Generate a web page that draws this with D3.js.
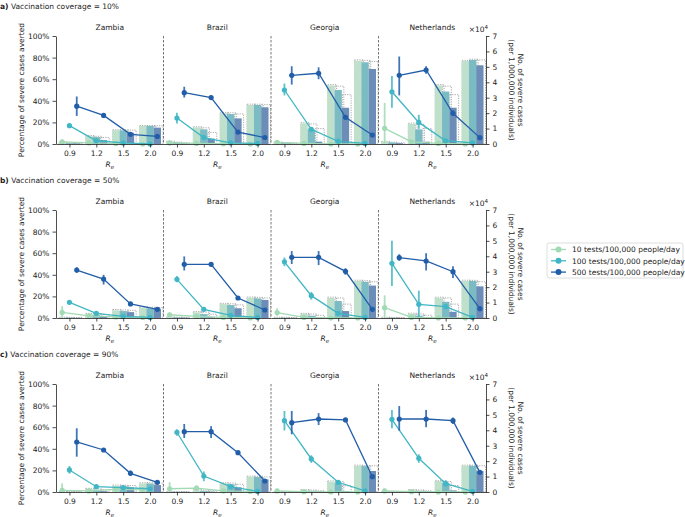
<!DOCTYPE html>
<html>
<head>
<meta charset="utf-8">
<script src="https://cdn.jsdelivr.net/npm/d3@7"></script>
<style>
  body { margin: 0; background: #fff; }
  text { font-family: "DejaVu Sans", sans-serif; fill: #222; }
</style>
</head>
<body>
<div id="chart"></div>
<script>
// categories
var coverages = ["10%", "50%", "90%"];
var panelLetters = ["a)", "b)", "c)"];
var countries = ["Zambia", "Brazil", "Georgia", "Netherlands"];
var reValues = ["0.9", "1.2", "1.5", "2.0"];
var testLevels = ["10 tests/100,000 people/day", "100 tests/100,000 people/day", "500 tests/100,000 people/day"];
var pctTicks = [0, 20, 40, 60, 80, 100];
var caseTicks = [0, 1, 2, 3, 4, 5, 6, 7];

// % severe cases averted, [country][test level][Re]
var averted10 = [
  [[2, 1, 0.5, 0], [17, 3, 1, 0], [35, 26.5, 9, 7]],
  [[1, 0.5, 0.3, 0], [24, 6, 1, 0.5], [47.5, 43, 11, 6]],
  [[1.5, 0.5, 0, 0], [50, 13.6, 2.5, 0.5], [63.6, 65.5, 24.7, 8.3]],
  [[14.5, 2, 0.5, 0], [48.4, 20, 3, 1], [63.6, 68.5, 28.4, 5.9]]
];
var lo10 = [
  [[0, 0, 0, 0], [15, 2, 0.5, 0], [26, 25, 8, 6]],
  [[0, 0, 0, 0], [19, 4.5, 0.5, 0], [43, 41, 9.5, 5]],
  [[0, 0, 0, 0], [45, 12, 2, 0], [55, 60, 23, 7.5]],
  [[1, 0.5, 0, 0], [33.6, 14, 2, 0.5], [45, 65, 26, 5]]
];
var hi10 = [
  [[4, 2, 1, 0.5], [19, 4, 1.5, 0.5], [44, 28, 10.5, 8]],
  [[3, 1.5, 1, 0.5], [29, 7.5, 1.5, 1], [53, 45, 12.5, 7]],
  [[3, 1, 0.5, 0.3], [56, 15, 3, 1], [72, 71, 26.5, 9]],
  [[38, 3.5, 1, 0.3], [63, 27, 4, 1.5], [81, 72, 31, 7]]
];
var averted50 = [
  [[5.2, 2, 1, 0.5], [14.5, 4.3, 1.5, 0.5], [44.4, 36, 13, 8]],
  [[3, 1.5, 0.5, 0], [35.8, 8, 2.5, 0.5], [49.7, 49.7, 18.5, 7.4]],
  [[5, 0.5, 0, 0], [52, 20.7, 4.3, 0.5], [56.2, 56.2, 43.2, 8]],
  [[9.6, 0.5, 0, 0], [50.6, 12.7, 10.5, 0.5], [55.9, 52.8, 42.9, 8.6]]
];
var lo50 = [
  [[1, 1, 0.5, 0], [13, 3, 1, 0], [42, 31, 11.5, 6]],
  [[1, 0.5, 0, 0], [33, 6.5, 1.5, 0], [44, 48, 17, 6]],
  [[2, 0, 0, 0], [48, 17, 3, 0], [50, 49, 40, 7]],
  [[1, 0, 0, 0], [29.6, 1, 8, 0], [53, 44, 37, 7.5]]
];
var hi50 = [
  [[11, 3, 1.5, 1], [16, 5.5, 2, 1], [47, 40, 14.5, 10]],
  [[5, 2.5, 1, 0.5], [39, 9.5, 3.5, 1], [57, 51, 20, 9]],
  [[9, 1, 0.5, 0.3], [56, 24, 5.5, 1], [62, 62, 46, 9]],
  [[21, 1, 0.5, 0.3], [71.6, 25.3, 13, 1], [59, 60, 48, 9.5]]
];
var averted90 = [
  [[1.5, 1, 2.5, 2], [20.4, 4.9, 4, 3], [46.3, 38.9, 17.3, 9]],
  [[3, 3.5, 1, 0.5], [55.3, 14.8, 4.9, 0.5], [55.9, 55.9, 36.4, 10.2]],
  [[1, 0.3, 0, 0], [66, 30.6, 9, 1], [64.2, 67.6, 66.7, 14.2]],
  [[1, 0.3, 0, 0], [67.3, 31.2, 7.7, 0.5], [67.6, 67.6, 66, 18.2]]
];
var lo90 = [
  [[0, 0, 1, 1], [17, 4, 3, 2], [32.7, 37.5, 15, 8]],
  [[0, 1, 0, 0], [52, 10, 3.5, 0], [50, 50, 34.5, 9]],
  [[0, 0, 0, 0], [57, 27, 7, 0], [53.4, 62, 65, 13]],
  [[0, 0, 0, 0], [59, 27, 5, 0], [56.8, 60, 63, 17]]
];
var hi90 = [
  [[8, 2, 4, 3], [24, 6, 5, 4], [59, 40, 20, 10]],
  [[9, 6, 2, 1], [58, 19, 6.5, 1], [63, 61, 38, 11.5]],
  [[3, 1, 0.5, 0.3], [75, 34, 11, 2], [75, 73, 68, 15.5]],
  [[3, 1, 0.5, 0.3], [76, 35, 11, 1], [79.6, 76, 69, 19.5]]
];

// severe cases (x10^4 per 1,000,000), [country][test level][Re]
var cases10 = [
  [[0.1, 0.52, 0.9, 1.17], [0.05, 0.45, 0.88, 1.17], [0.03, 0.25, 0.73, 1.06]],
  [[0.15, 1.08, 2.0, 2.53], [0.1, 0.95, 1.94, 2.53], [0.05, 0.35, 1.66, 2.38]],
  [[0.1, 1.34, 3.8, 5.4], [0.05, 0.95, 3.5, 5.3], [0.02, 0.15, 2.35, 4.86]],
  [[0.15, 1.3, 3.8, 5.38], [0.1, 0.95, 3.4, 5.45], [0.05, 0.15, 2.35, 5.1]]
];
var dotted10 = [
  [[0.12, 0.55, 0.92, 1.2], [0.08, 0.5, 0.92, 1.2], [0.06, 0.42, 0.9, 1.18]],
  [[0.18, 1.12, 2.05, 2.58], [0.12, 1.05, 2.02, 2.58], [0.08, 0.75, 1.95, 2.55]],
  [[0.13, 1.38, 3.85, 5.45], [0.1, 1.3, 3.75, 5.42], [0.06, 1.0, 3.2, 5.35]],
  [[0.17, 1.35, 3.85, 5.42], [0.12, 1.28, 3.75, 5.5], [0.08, 1.0, 3.2, 5.45]]
];
var cases50 = [
  [[0.03, 0.26, 0.5, 0.67], [0.02, 0.2, 0.45, 0.62], [0.01, 0.1, 0.38, 0.6]],
  [[0.05, 0.37, 0.9, 1.32], [0.04, 0.25, 0.84, 1.27], [0.02, 0.05, 0.63, 1.17]],
  [[0.03, 0.27, 1.3, 2.4], [0.02, 0.15, 1.1, 2.35], [0.01, 0.05, 0.45, 2.1]],
  [[0.03, 0.28, 1.3, 2.4], [0.02, 0.15, 1.05, 2.4], [0.01, 0.05, 0.4, 2.05]]
];
var dotted50 = [
  [[0.05, 0.3, 0.55, 0.72], [0.04, 0.28, 0.52, 0.7], [0.03, 0.22, 0.5, 0.68]],
  [[0.07, 0.42, 0.95, 1.36], [0.06, 0.38, 0.92, 1.34], [0.04, 0.25, 0.85, 1.3]],
  [[0.05, 0.3, 1.35, 2.45], [0.04, 0.26, 1.3, 2.42], [0.03, 0.18, 0.9, 2.35]],
  [[0.05, 0.31, 1.35, 2.45], [0.04, 0.26, 1.3, 2.44], [0.03, 0.18, 0.9, 2.35]]
];
var cases90 = [
  [[0.02, 0.2, 0.41, 0.56], [0.01, 0.1, 0.38, 0.55], [0.01, 0.05, 0.3, 0.45]],
  [[0.02, 0.1, 0.56, 0.99], [0.01, 0.06, 0.5, 0.97], [0.01, 0.02, 0.3, 0.82]],
  [[0.02, 0.12, 0.67, 1.7], [0.01, 0.08, 0.6, 1.68], [0.01, 0.02, 0.05, 1.36]],
  [[0.02, 0.12, 0.71, 1.7], [0.01, 0.08, 0.6, 1.7], [0.01, 0.02, 0.1, 1.36]]
];
var dotted90 = [
  [[0.03, 0.24, 0.45, 0.6], [0.02, 0.2, 0.44, 0.6], [0.02, 0.15, 0.42, 0.58]],
  [[0.03, 0.15, 0.6, 1.03], [0.02, 0.12, 0.58, 1.02], [0.02, 0.08, 0.5, 0.98]],
  [[0.03, 0.15, 0.72, 1.74], [0.02, 0.13, 0.68, 1.72], [0.02, 0.08, 0.4, 1.7]],
  [[0.03, 0.15, 0.75, 1.74], [0.02, 0.13, 0.68, 1.74], [0.02, 0.08, 0.42, 1.7]]
];

var averted = [averted10, averted50, averted90];
var lows = [lo10, lo50, lo90];
var highs = [hi10, hi50, hi90];
var cases = [cases10, cases50, cases90];
var dotted = [dotted10, dotted50, dotted90];

var lineColors = ["#a1dab4", "#41b6c4", "#225ea8"];
var barColors = ["#bfe0cb", "#7bbcc4", "#6b8db8"];

var width = 685, height = 517;
var left = 56, panelW = 107.5, plotH = 108;
var rowTops = [36, 210, 384];
var barW = 7.3;

var svg = d3.select("#chart").append("svg")
  .attr("width", width)
  .attr("height", height);

var yPct = d3.scaleLinear().domain([0, 100]).range([plotH, 0]);
var yCases = d3.scaleLinear().domain([0, 7]).range([plotH, 0]);
var xRe = d3.scalePoint().domain(reValues).range([0, panelW]).padding(0.5);

rowTops.forEach(function(top, r) {
  var row = svg.append("g").attr("transform", "translate(0," + top + ")");

  row.append("text")
    .attr("x", 0).attr("y", -27.5)
    .style("font-size", "7.5px")
    .call(function(t) {
      t.append("tspan").style("font-weight", "bold").text(panelLetters[r]);
      t.append("tspan").text(" Vaccination coverage = " + coverages[r]);
    });

  countries.forEach(function(country, c) {
    var p = row.append("g").attr("transform", "translate(" + (left + c * panelW) + ",0)");

    p.append("text")
      .attr("x", panelW / 2).attr("y", -6)
      .attr("text-anchor", "middle")
      .style("font-size", "7.5px")
      .text(country);

    if (c > 0) {
      p.append("line")
        .attr("x1", 0).attr("x2", 0)
        .attr("y1", 0).attr("y2", plotH)
        .attr("stroke", "#555").attr("stroke-width", 0.8)
        .attr("stroke-dasharray", "2.5,1.5");
    }

    // dotted outline bars then filled bars
    testLevels.forEach(function(lv, k) {
      var off = (k - 1) * barW - barW / 2;
      p.selectAll(".dot" + k).data(reValues).enter().append("rect")
        .attr("x", function(d) { return xRe(d) + off + 0.5; })
        .attr("width", barW + 1.5)
        .attr("y", function(d, i) { return yCases(dotted[r][c][k][i]); })
        .attr("height", function(d, i) { return plotH - yCases(dotted[r][c][k][i]); })
        .attr("fill", "none")
        .attr("stroke", "#aaa")
        .attr("stroke-width", 1)
        .attr("stroke-dasharray", "1.2,1.2");
    });
    testLevels.forEach(function(lv, k) {
      var off = (k - 1) * barW - barW / 2;
      p.selectAll(".bar" + k).data(reValues).enter().append("rect")
        .attr("x", function(d) { return xRe(d) + off; })
        .attr("width", barW)
        .attr("y", function(d, i) { return yCases(cases[r][c][k][i]); })
        .attr("height", function(d, i) { return plotH - yCases(cases[r][c][k][i]); })
        .attr("fill", barColors[k]);
    });

    // lines with error bars
    testLevels.forEach(function(lv, k) {
      var off = (k - 1) * barW;
      var vals = averted[r][c][k];
      var line = d3.line()
        .x(function(d, i) { return xRe(reValues[i]) + off; })
        .y(function(d) { return yPct(d); });
      p.append("path")
        .datum(vals)
        .attr("d", line)
        .attr("fill", "none")
        .attr("stroke", lineColors[k])
        .attr("stroke-width", 1.3);
      p.selectAll(".err" + k).data(vals).enter().append("line")
        .attr("x1", function(d, i) { return xRe(reValues[i]) + off; })
        .attr("x2", function(d, i) { return xRe(reValues[i]) + off; })
        .attr("y1", function(d, i) { return yPct(lows[r][c][k][i]); })
        .attr("y2", function(d, i) { return yPct(highs[r][c][k][i]); })
        .attr("stroke", lineColors[k])
        .attr("stroke-width", 1.8)
        .attr("opacity", 0.85);
      p.selectAll(".pt" + k).data(vals).enter().append("circle")
        .attr("cx", function(d, i) { return xRe(reValues[i]) + off; })
        .attr("cy", function(d) { return yPct(d); })
        .attr("r", 2.6)
        .attr("fill", lineColors[k]);
    });

    var xAxisG = p.append("g")
      .attr("transform", "translate(0," + plotH + ")")
      .call(d3.axisBottom(xRe).tickSize(3.5).tickSizeOuter(0));
    xAxisG.select(".domain").attr("stroke", "#222").attr("stroke-width", 0.8);
    xAxisG.selectAll("text").style("font-size", "7.5px").style("font-family", "DejaVu Sans").attr("fill", "#222");
    xAxisG.selectAll(".tick line").attr("stroke", "#222").attr("stroke-width", 0.8);

    p.append("text")
      .attr("x", panelW / 2).attr("y", plotH + 23)
      .attr("text-anchor", "middle")
      .style("font-size", "7.5px")
      .call(function(t) {
        t.append("tspan").style("font-style", "italic").text("R");
        t.append("tspan").attr("dy", 2).style("font-size", "5.5px").style("font-style", "italic").text("e");
      });
  });

  var yAxisG = row.append("g")
    .attr("transform", "translate(" + left + ",0)")
    .call(d3.axisLeft(yPct).tickValues(pctTicks).tickSize(3.5).tickSizeOuter(0)
      .tickFormat(function(d) { return d + "%"; }));
  var rightX = left + 4 * panelW;
  var yAxisR = row.append("g")
    .attr("transform", "translate(" + rightX + ",0)")
    .call(d3.axisRight(yCases).tickValues(caseTicks).tickSize(3.5).tickSizeOuter(0)
      .tickFormat(d3.format("d")));
  [yAxisG, yAxisR].forEach(function(g) {
    g.select(".domain").attr("stroke", "#222").attr("stroke-width", 0.8);
    g.selectAll(".tick line").attr("stroke", "#222").attr("stroke-width", 0.8);
    g.selectAll("text").style("font-size", "7.5px").style("font-family", "DejaVu Sans").attr("fill", "#222");
  });

  row.append("text")
    .attr("x", rightX + 2).attr("y", -4)
    .attr("text-anchor", "end")
    .style("font-size", "7.5px")
    .call(function(t) {
      t.append("tspan").text("×10");
      t.append("tspan").attr("dy", -3).style("font-size", "5.5px").text("4");
    });

  row.append("text")
    .attr("transform", "translate(24," + (plotH / 2) + ") rotate(-90)")
    .attr("text-anchor", "middle")
    .style("font-size", "7.5px")
    .text("Percentage of severe cases averted");

  var rl = row.append("text")
    .attr("transform", "translate(" + (rightX + 32) + "," + (plotH / 2) + ") rotate(90)")
    .attr("text-anchor", "middle")
    .style("font-size", "7.5px");
  rl.append("tspan").attr("x", 0).attr("y", 0).text("No. of severe cases");
  rl.append("tspan").attr("x", 0).attr("y", 9).text("(per 1,000,000 individuals)");
});

// legend
var legend = svg.append("g").attr("transform", "translate(547,243)");
legend.append("rect")
  .attr("width", 136).attr("height", 35)
  .attr("rx", 2)
  .attr("fill", "#fff")
  .attr("stroke", "#d5d5d5")
  .attr("stroke-width", 0.8);
testLevels.forEach(function(lv, k) {
  var y = 6.5 + k * 11.3;
  legend.append("line")
    .attr("x1", 4).attr("x2", 19).attr("y1", y).attr("y2", y)
    .attr("stroke", lineColors[k]).attr("stroke-width", 1.3);
  legend.append("circle")
    .attr("cx", 11.5).attr("cy", y).attr("r", 3)
    .attr("fill", lineColors[k]);
  legend.append("text")
    .attr("x", 25).attr("y", y + 2.7)
    .style("font-size", "7.5px")
    .text(lv);
});
</script>
</body>
</html>
